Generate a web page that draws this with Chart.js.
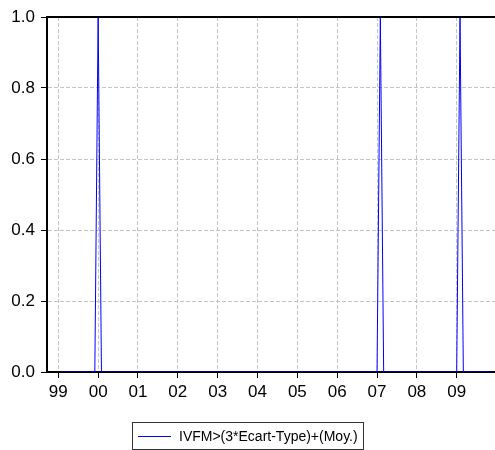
<!DOCTYPE html>
<html>
<head>
<meta charset="utf-8">
<script src="https://cdn.jsdelivr.net/npm/chart.js@4"></script>
<style>
html,body{margin:0;padding:0;background:#fff;overflow:hidden;}
#wrap{position:relative;width:500px;height:450px;}
</style>
</head>
<body>
<div id="wrap"><canvas id="c"></canvas></div>
<script>
// ---- data (monthly, first observation 1999M02, last 2009M12) ----
const seriesLabel = 'IVFM>(3*Ecart-Type)+(Moy.)';
const firstYear = 1999;
const firstMonth = 2;
const ivfm = [
  /*1999*/ 0,0,0,0,0,0,0,0,0,0,0,
  /*2000*/ 1,0,0,0,0,0,0,0,0,0,0,0,
  /*2001*/ 0,0,0,0,0,0,0,0,0,0,0,0,
  /*2002*/ 0,0,0,0,0,0,0,0,0,0,0,0,
  /*2003*/ 0,0,0,0,0,0,0,0,0,0,0,0,
  /*2004*/ 0,0,0,0,0,0,0,0,0,0,0,0,
  /*2005*/ 0,0,0,0,0,0,0,0,0,0,0,0,
  /*2006*/ 0,0,0,0,0,0,0,0,0,0,0,0,
  /*2007*/ 0,1,0,0,0,0,0,0,0,0,0,0,
  /*2008*/ 0,0,0,0,0,0,0,0,0,0,0,0,
  /*2009*/ 0,1,0,0,0,0,0,0,0,0,0,0
];
const tickYears = [1999,2000,2001,2002,2003,2004,2005,2006,2007,2008,2009];
const tickLabels = ['99','00','01','02','03','04','05','06','07','08','09'];
const yTicks = [0,0.2,0.4,0.6,0.8,1.0];

const FONT = '"Liberation Sans", Arial, Helvetica, sans-serif';

const points = ivfm.map((v, i) => {
  const mIdx = (firstMonth - 1) + i;
  return { x: firstYear + mIdx / 12, y: v };
});

const frame = {
  id: 'frame',
  afterDatasetsDraw(chart) {
    const {ctx, chartArea: a} = chart;
    ctx.save();
    ctx.strokeStyle = '#000';
    ctx.lineWidth = 2;
    ctx.beginPath();
    ctx.moveTo(a.left - 1, a.top);
    ctx.lineTo(a.right, a.top);
    ctx.stroke();
    ctx.restore();
  },
  afterDraw(chart) {
    const ctx = chart.ctx;
    const ds = chart.data.datasets[0];
    ctx.save();
    ctx.font = '14px ' + FONT;
    const tw = ctx.measureText(ds.label).width;
    const bx = 132.5, by = 422.5, bh = 27;
    const tx = 179;
    const bw = Math.round(tx + tw + 6 - bx);
    ctx.strokeStyle = '#333';
    ctx.lineWidth = 1;
    ctx.strokeRect(bx, by, bw, bh);
    ctx.strokeStyle = ds.borderColor;
    ctx.beginPath();
    ctx.moveTo(138, 436.5);
    ctx.lineTo(171, 436.5);
    ctx.stroke();
    ctx.fillStyle = '#000';
    ctx.textBaseline = 'middle';
    ctx.textAlign = 'left';
    ctx.fillText(ds.label, tx, 437);
    ctx.restore();
  }
};

new Chart(document.getElementById('c'), {
  type: 'line',
  data: {
    datasets: [{
      label: seriesLabel,
      data: points,
      borderColor: '#0000ff',
      borderWidth: 1,
      pointRadius: 0,
      tension: 0,
      fill: false
    }]
  },
  options: {
    responsive: true,
    maintainAspectRatio: false,
    animation: false,
    events: [],
    layout: { padding: { top: 17, left: 0, right: 0, bottom: 0 } },
    plugins: { legend: { display: false }, tooltip: { enabled: false } },
    scales: {
      x: {
        type: 'linear',
        min: 1998.7164,
        max: 2010.0868,
        afterBuildTicks: s => { s.ticks = tickYears.map(v => ({ value: v })); },
        afterFit: s => { s.height = 78; },
        ticks: {
          callback: (v, i) => tickLabels[i],
          font: { family: FONT, size: 17 },
          color: '#000',
          padding: 4,
          maxRotation: 0,
          autoSkip: false
        },
        grid: { color: '#c4c4c4', lineWidth: 1, tickColor: '#000', tickLength: 6, tickWidth: 1, tickBorderDash: [] },
        border: { display: true, color: '#000', width: 2, dash: [4, 2] }
      },
      y: {
        min: 0,
        max: 1,
        afterBuildTicks: s => { s.ticks = yTicks.map(v => ({ value: v })); },
        afterFit: s => { s.width = 47; },
        ticks: {
          callback: v => Number(v).toFixed(1),
          font: { family: FONT, size: 17 },
          color: '#000',
          padding: 6
        },
        grid: { color: '#c4c4c4', lineWidth: 1, tickColor: '#000', tickLength: 6, tickWidth: 1, tickBorderDash: [] },
        border: { display: true, color: '#000', width: 2, dash: [4, 2] }
      }
    }
  },
  plugins: [frame]
});
</script>
</body>
</html>
